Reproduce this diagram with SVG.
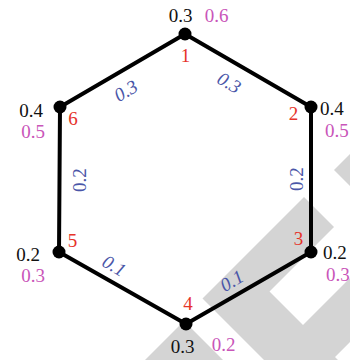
<svg xmlns="http://www.w3.org/2000/svg" width="350" height="360" viewBox="0 0 350 360">
<style>
text{font-family:"Liberation Serif","Times New Roman",serif;font-size:19px}
.k{fill:#111}
.r{fill:#e63329}
.m{fill:#c955b9}
.b{fill:#4a56a8;font-style:italic}
.bv{fill:#4a56a8}
.e{stroke:#000;stroke-width:4;fill:none;stroke-linejoin:round}
.n{fill:#000}
.wm{fill:#d4d4d4}
</style>
<rect width="350" height="360" fill="#fff"/>
<g id="watermark">
<polygon class="wm" points="334,170 420,84 420,256"/>
<polygon class="wm" points="304,197 334,227 269.5,291.5 303,325 414,214 446,246 335,357 439,461 402,498 202.5,298.5"/>
<polygon class="wm" points="184,321 2.5,502.5 200,700 381.5,518.5"/>
</g>
<g id="connectors">
<path class="e" d="M185,34 L311,107 L311,252 L186,324 L59,252 L60,107 Z"/>
<text class="b" text-anchor="middle" transform="translate(126,91) rotate(-30)" y="6">0.3</text>
<text class="b" text-anchor="middle" transform="translate(229,83) rotate(30)" y="6">0.3</text>
<text class="bv" text-anchor="middle" transform="translate(79.5,180) rotate(-90)" y="6">0.2</text>
<text class="bv" text-anchor="middle" transform="translate(297,179) rotate(-90)" y="6">0.2</text>
<text class="b" text-anchor="middle" transform="translate(114,266) rotate(30)" y="6">0.1</text>
<text class="b" text-anchor="middle" transform="translate(232,281) rotate(-30)" y="6">0.1</text>
</g>
<g id="node1">
<circle class="n" cx="185" cy="34" r="6.5"/>
<text class="k" x="180.5" y="21.5" text-anchor="middle">0.3</text>
<text class="m" x="216.5" y="21.5" text-anchor="middle">0.6</text>
<text class="r" x="185.5" y="61.5" text-anchor="middle">1</text>
</g>
<g id="node2">
<circle class="n" cx="311" cy="107" r="6.5"/>
<text class="r" x="293.5" y="120" text-anchor="middle">2</text>
<text class="k" x="320" y="115">0.4</text>
<text class="m" x="325" y="137">0.5</text>
</g>
<g id="node3">
<circle class="n" cx="311" cy="252" r="6.5"/>
<text class="r" x="298.5" y="245" text-anchor="middle">3</text>
<text class="k" x="323" y="259">0.2</text>
<text class="m" x="326" y="281">0.3</text>
</g>
<g id="node4">
<circle class="n" cx="186" cy="324" r="6.5"/>
<text class="r" x="188" y="310" text-anchor="middle">4</text>
<text class="k" x="182.5" y="353" text-anchor="middle">0.3</text>
<text class="m" x="223.5" y="350.5" text-anchor="middle">0.2</text>
</g>
<g id="node5">
<circle class="n" cx="59" cy="252" r="6.5"/>
<text class="r" x="72.5" y="247" text-anchor="middle">5</text>
<text class="k" x="40" y="261" text-anchor="end">0.2</text>
<text class="m" x="45" y="282" text-anchor="end">0.3</text>
</g>
<g id="node6">
<circle class="n" cx="60" cy="107" r="6.5"/>
<text class="r" x="73" y="125" text-anchor="middle">6</text>
<text class="k" x="43" y="117" text-anchor="end">0.4</text>
<text class="m" x="45" y="137.5" text-anchor="end">0.5</text>
</g>
</svg>
